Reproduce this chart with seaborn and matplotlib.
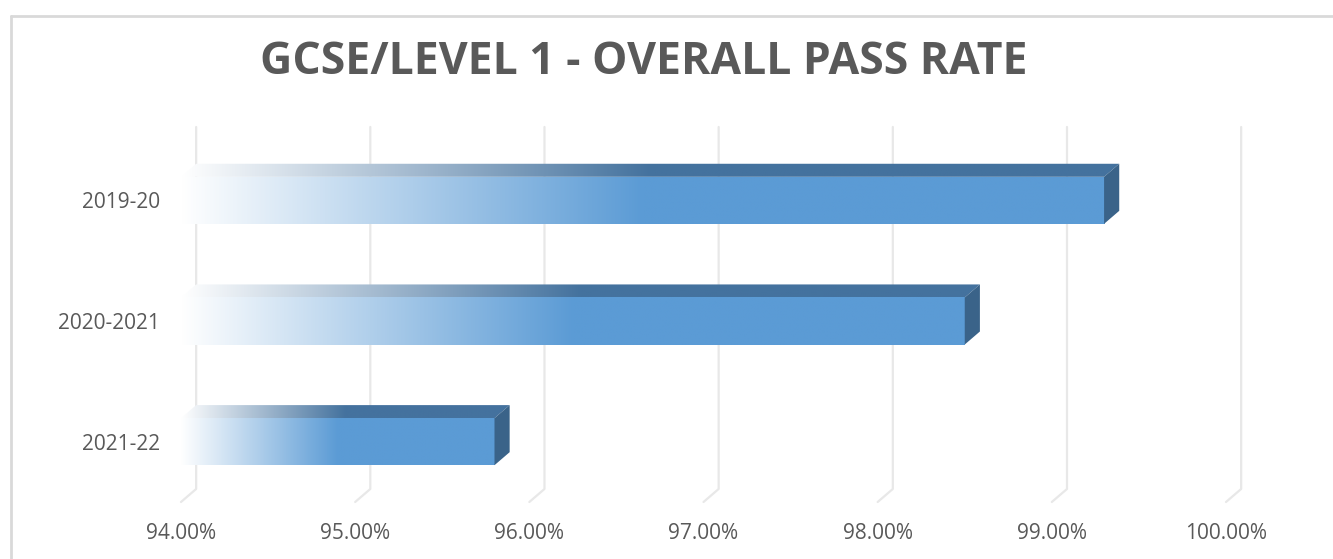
import matplotlib.pyplot as plt
import numpy as np
import pandas as pd
import seaborn as sns
from matplotlib.lines import Line2D
from matplotlib.patches import Polygon

years = ['2019-20', '2020-2021', '2021-22']
pass_rate = [99.3, 98.5, 95.8]
x_ticks = [94, 95, 96, 97, 98, 99, 100]
x_labels = ['94.00%', '95.00%', '96.00%', '97.00%', '98.00%', '99.00%', '100.00%']

df = pd.DataFrame({'Year': years, 'Pass rate': pass_rate})

sns.set_style('white')
plt.rcParams['font.family'] = ['Open Sans', 'DejaVu Sans']

front = np.array([0x5B, 0x9B, 0xD5]) / 255
top = np.array([0x44, 0x72, 0x9E]) / 255
side = '#3A6389'
grid_col = '#e8e8e8'
text_col = '#595959'

# 3D depth in data units
dx, dy = 0.087, 0.108
xmin, xmax = 94, 100
ymin, ymax = 2.5, -0.5

fig = plt.figure(figsize=(13.33, 5.59), dpi=100)
ax = fig.add_axes([181 / 1333, 57 / 559, 1045 / 1333, 362 / 559])

sns.barplot(data=df, x='Pass rate', y='Year', orient='h', width=0.39,
            color='#5B9BD5', ax=ax, zorder=3)


def gradient(col, n=400, fade=0.5):
    t = np.clip(np.linspace(0, 1, n) / fade, 0, 1)
    rgb = (1 - t)[:, None] * np.ones(3) + t[:, None] * col
    return rgb[None, :, :]


# back wall + floor grid lines
for t in x_ticks:
    ax.plot([t + dx, t + dx, t], [ymax - dy, ymin - dy, ymin], color=grid_col,
            lw=1.6, zorder=0, clip_on=False)

for p in ax.patches:
    x1 = p.get_width()
    x0 = xmin
    y0 = p.get_y()
    h = p.get_height()
    p.set_x(x0)
    p.set_width(x1 - x0)
    p.set_facecolor('none')
    p.set_edgecolor('none')
    # front face gradient
    im = ax.imshow(gradient(front), extent=[x0, x1, y0 + h, y0], aspect='auto',
                   zorder=3, interpolation='bilinear')
    im.set_clip_path(p)
    # top face
    tp = Polygon([(x0, y0), (x1, y0), (x1 + dx, y0 - dy), (x0 + dx, y0 - dy)],
                 closed=True, facecolor='none', edgecolor='none')
    ax.add_patch(tp)
    im2 = ax.imshow(gradient(top), extent=[x0, x1 + dx, y0, y0 - dy], aspect='auto',
                    zorder=3, interpolation='bilinear')
    im2.set_clip_path(tp)
    # side face
    ax.add_patch(Polygon([(x1, y0), (x1, y0 + h), (x1 + dx, y0 + h - dy), (x1 + dx, y0 - dy)],
                         closed=True, facecolor=side, edgecolor='none', zorder=3))

ax.set_xlim(xmin, xmax)
ax.set_ylim(ymin, ymax)
ax.set_xticks(x_ticks)
ax.set_xticklabels(x_labels)
ax.tick_params(axis='x', length=0, pad=15, labelsize=15, labelcolor=text_col)
ax.tick_params(axis='y', length=0, pad=15, labelsize=15, labelcolor=text_col)
ax.set_xlabel('')
ax.set_ylabel('')
sns.despine(ax=ax, left=True, bottom=True)
ax.patch.set_alpha(0)

fig.text(0.483, 1 - 62 / 559, 'GCSE/LEVEL 1 - OVERALL PASS RATE', ha='center', va='center',
         fontsize=32, fontweight='bold', color=text_col)

# chart border
xl, yt = 11 / 1333, 1 - 16 / 559
fig.add_artist(Line2D([xl, xl], [0, yt], color='#d9d9d9', lw=2))
fig.add_artist(Line2D([xl, 1], [yt, yt], color='#d9d9d9', lw=2))

fig.savefig('out.png', dpi=100, facecolor='white')
